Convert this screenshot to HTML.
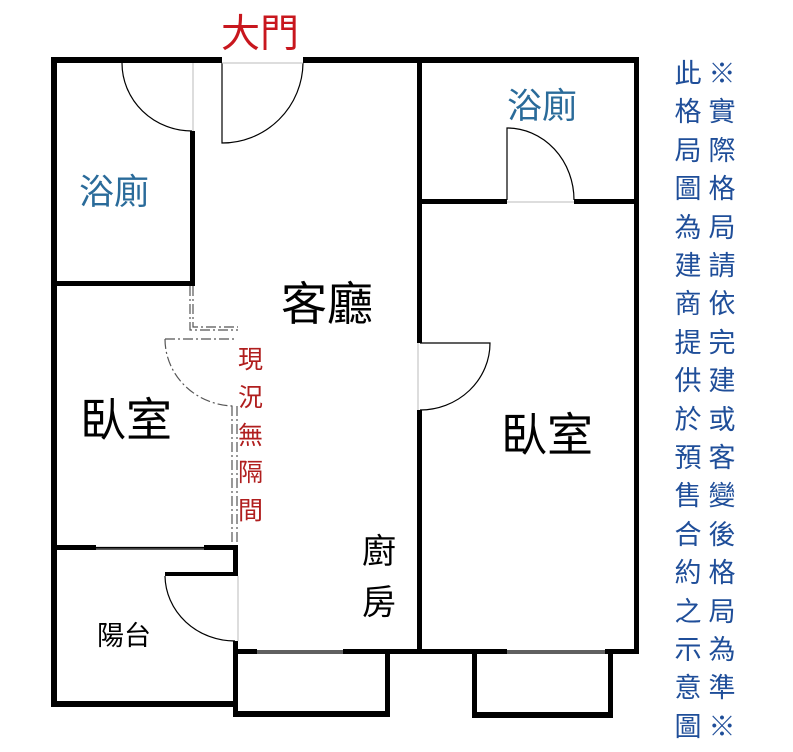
<!DOCTYPE html>
<html><head><meta charset="utf-8"><style>
html,body{margin:0;padding:0;background:#fff;width:793px;height:752px;overflow:hidden}
svg{display:block}
text{font-family:"Liberation Sans","Noto Sans CJK TC",sans-serif}
</style></head><body>
<svg width="793" height="752" viewBox="0 0 793 752" xmlns="http://www.w3.org/2000/svg">
<g fill="#000">
<rect x="51" y="57" width="171" height="6"/>
<rect x="303" y="57" width="336" height="6"/>
<rect x="51" y="57" width="6" height="650"/>
<rect x="51" y="701" width="186" height="6"/>
<rect x="190" y="131" width="5" height="155"/>
<rect x="51" y="281" width="144" height="5"/>
<rect x="417" y="57" width="5" height="286"/>
<rect x="417" y="410" width="5" height="244"/>
<rect x="634" y="57" width="5" height="597"/>
<rect x="417" y="199" width="90" height="5"/>
<rect x="574" y="199" width="65" height="5"/>
<rect x="233" y="649" width="24" height="5"/>
<rect x="343" y="649" width="164" height="5"/>
<rect x="605" y="649" width="34" height="5"/>
<rect x="233" y="649" width="5" height="68"/>
<rect x="385" y="649" width="5" height="68"/>
<rect x="233" y="711" width="157" height="6"/>
<rect x="472" y="649" width="5" height="69"/>
<rect x="608" y="649" width="5" height="69"/>
<rect x="472" y="712" width="141" height="6"/>
<rect x="51" y="545" width="45" height="5"/>
<rect x="204" y="545" width="34" height="5"/>
<rect x="233" y="545" width="5" height="31"/>
<rect x="165" y="572" width="73" height="4"/>
<rect x="233" y="641" width="5" height="70"/>
</g>
<g fill="none" stroke="#000" stroke-width="1.2">
<path d="M222 63 V143 A81 81 0 0 0 303 63"/>
<path d="M122 63 A70 68 0 0 0 192 131"/>
<path d="M507 200 V128 A67 72 0 0 1 574 200"/>
<path d="M420 343 H490 A70 67 0 0 1 420 410"/>
<path d="M165 576 A70 66 0 0 0 235 641"/>
<path d="M96 547.5 H206 M96 549 H206"/>
<path d="M257 651 H343 M257 653 H343"/>
<path d="M507 651 H605 M507 653 H605"/>
</g>
<g fill="none" stroke="#bbb" stroke-width="1">
<path d="M193 63 V131"/>
<path d="M222 63 H303"/>
<path d="M507 202 H574"/>
<path d="M418 343 V410"/>
<path d="M238 576 V641"/>
</g>
<g fill="none" stroke="#555" stroke-width="1.2" stroke-dasharray="10,3,2,3">
<path d="M190 286 V330 H238"/>
<path d="M193 286 V327 H238"/>
<path d="M165 339 H237"/>
<path d="M165 339 A70 67 0 0 0 234 406"/>
<path d="M232 406 V545"/>
<path d="M237 406 V545"/>
</g>
<text x="221" y="47" font-size="39" fill="#c8171e">大門</text>
<text x="79" y="204" font-size="35" fill="#2a6b9a">浴廁</text>
<text x="507" y="118" font-size="35" fill="#2a6b9a">浴廁</text>
<text x="281" y="320" font-size="46" fill="#000">客廳</text>
<text x="80" y="436" font-size="46" fill="#000">臥室</text>
<text x="501" y="451" font-size="46" fill="#000">臥室</text>
<text x="97" y="645" font-size="27" fill="#000">陽台</text>
<g font-size="34" fill="#000">
<text x="362" y="563">廚</text>
<text x="362" y="614">房</text>
</g>
<g font-size="25" fill="#b01e1e">
<text x="238" y="368">現</text>
<text x="238" y="406">況</text>
<text x="238" y="444">無</text>
<text x="238" y="481">隔</text>
<text x="238" y="519">間</text>
</g>
<g font-size="27" fill="#1f4e99" text-anchor="middle">
<text x="688" y="83">此</text><text x="688" y="121">格</text><text x="688" y="160">局</text><text x="688" y="198">圖</text><text x="688" y="237">為</text><text x="688" y="275">建</text><text x="688" y="313">商</text><text x="688" y="352">提</text><text x="688" y="390">供</text><text x="688" y="429">於</text><text x="688" y="467">預</text><text x="688" y="505">售</text><text x="688" y="544">合</text><text x="688" y="582">約</text><text x="688" y="621">之</text><text x="688" y="659">示</text><text x="688" y="697">意</text><text x="688" y="736">圖</text>
<text x="722" y="83">※</text><text x="722" y="121">實</text><text x="722" y="160">際</text><text x="722" y="198">格</text><text x="722" y="237">局</text><text x="722" y="275">請</text><text x="722" y="313">依</text><text x="722" y="352">完</text><text x="722" y="390">建</text><text x="722" y="429">或</text><text x="722" y="467">客</text><text x="722" y="505">變</text><text x="722" y="544">後</text><text x="722" y="582">格</text><text x="722" y="621">局</text><text x="722" y="659">為</text><text x="722" y="697">準</text><text x="722" y="736">※</text>
</g>
</svg>
</body></html>
